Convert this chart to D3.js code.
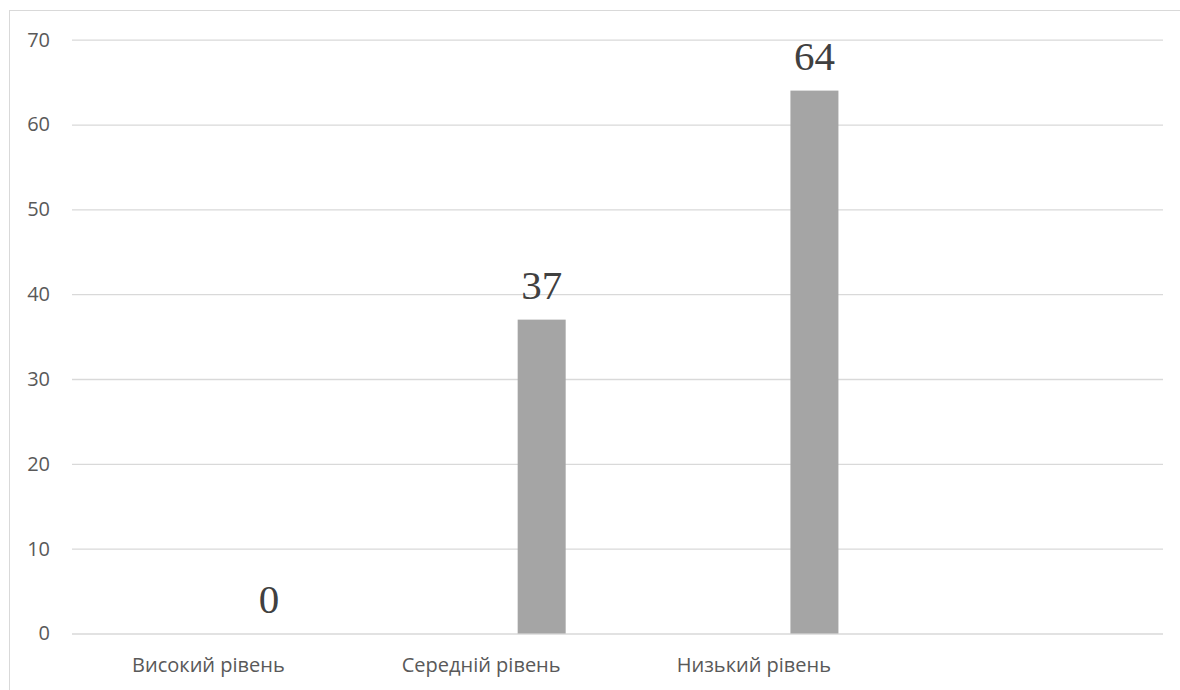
<!DOCTYPE html>
<html>
<head>
<meta charset="utf-8">
<script src="https://cdn.jsdelivr.net/npm/d3@7/dist/d3.min.js"></script>
<style>
  html, body { margin: 0; padding: 0; background: #fff; }
  svg { display: block; }
</style>
</head>
<body>
<svg id="chart" width="1180" height="690"></svg>
<script>
// Categories along the x axis (the last slot is an empty category)
const categories = ["Високий рівень", "Середній рівень", "Низький рівень", ""];
// Values of the single series; the empty slot has none
const values = [0, 37, 64, null];
// Value axis ticks
const yTicks = [0, 10, 20, 30, 40, 50, 60, 70];

const W = 1180, H = 690;
const plot = { left: 72, right: 1163, top: 39.7, bottom: 633.5 };
// bar placement inside its category slot (as fractions of the slot width)
const barCenterFrac = 0.722;
const barWidthFrac = 0.176;

const svg = d3.select("#chart");

// chart frame
svg.append("rect")
  .attr("x", 9.5).attr("y", 10.5)
  .attr("width", W + 20).attr("height", H + 20)
  .attr("fill", "#fff")
  .attr("stroke", "#d9d9d9").attr("stroke-width", 1);

const x = d3.scaleBand().domain(categories).range([plot.left, plot.right]).padding(0);
const y = d3.scaleLinear().domain([0, 70]).range([plot.bottom, plot.top]);

// horizontal gridlines and y tick labels
const yAxis = d3.axisLeft(y).tickValues(yTicks).tickSize(-(plot.right - plot.left)).tickPadding(22);
const gy = svg.append("g").attr("transform", `translate(${plot.left},0)`).call(yAxis);
gy.select(".domain").remove();
gy.selectAll(".tick line").attr("stroke", "#d9d9d9").attr("stroke-width", 1.3);
gy.selectAll(".tick text")
  .attr("fill", "#595959")
  .attr("font-family", "'Open Sans', sans-serif")
  .attr("font-size", 20);

// category labels
const xAxis = d3.axisBottom(x).tickSize(0).tickPadding(24);
const gx = svg.append("g").attr("transform", `translate(0,${plot.bottom})`).call(xAxis);
gx.select(".domain").remove();
gx.selectAll(".tick text")
  .attr("fill", "#595959")
  .attr("font-family", "'Open Sans', sans-serif")
  .attr("font-size", 20);

const data = categories.map((c, i) => ({ c, v: values[i] })).filter(d => d.v !== null);
const bw = x.bandwidth() * barWidthFrac;
const cx = d => x(d.c) + x.bandwidth() * barCenterFrac;

// bars
svg.append("g").selectAll("rect")
  .data(data).join("rect")
  .attr("x", d => cx(d) - bw / 2)
  .attr("y", d => y(d.v))
  .attr("width", bw)
  .attr("height", d => y(0) - y(d.v))
  .attr("fill", "#a5a5a5");

// value labels
svg.append("g").selectAll("text")
  .data(data).join("text")
  .attr("x", d => cx(d))
  .attr("y", d => y(d.v) - 20.5)
  .attr("text-anchor", "middle")
  .attr("fill", "#404040")
  .attr("font-family", "'Liberation Serif', 'Times New Roman', serif")
  .attr("font-size", 41)
  .text(d => d.v);
</script>
</body>
</html>
